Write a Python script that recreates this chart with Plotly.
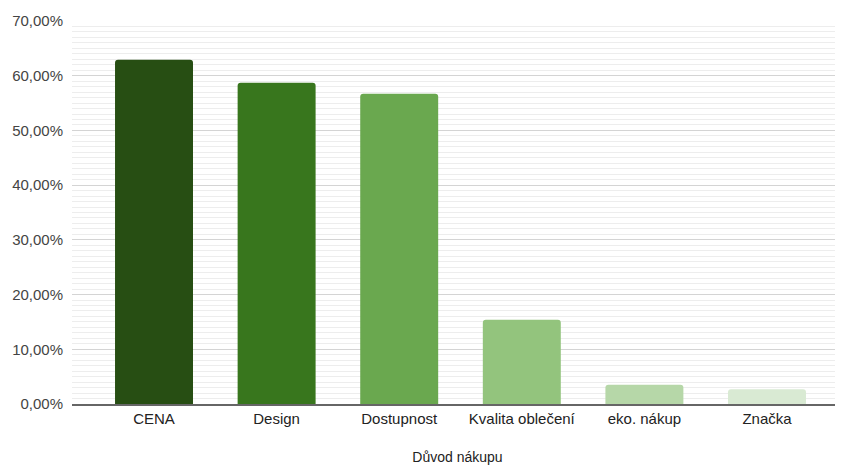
import plotly.graph_objects as go

categories = ["CENA", "Design", "Dostupnost", "Kvalita oblečení", "eko. nákup", "Značka"]
values = [0.629, 0.587, 0.567, 0.154, 0.035, 0.027]
colors = ["#274e13", "#38761d", "#6aa84f", "#93c47d", "#b6d7a8", "#d9ead3"]
y_ticks = [0, 0.1, 0.2, 0.3, 0.4, 0.5, 0.6, 0.7]

fig = go.Figure(go.Bar(
    x=list(range(len(categories))), y=values,
    marker=dict(color=colors, cornerradius=3, line=dict(width=0)),
    width=0.636,
))

font = "Liberation Sans, Arial, sans-serif"
fig.update_layout(
    width=835, height=457,
    margin=dict(l=64, r=0, t=13, b=61),
    paper_bgcolor="white", plot_bgcolor="white",
    separators=",.",
    showlegend=False,
    font=dict(family=font, size=15, color="#444444"),
)
fig.update_xaxes(
    tickmode="array", tickvals=list(range(len(categories))), ticktext=categories,
    range=[-0.669, 5.62],
    showgrid=False, showline=True, linecolor="#666666", linewidth=2,
    ticks="", tickfont=dict(size=15, color="#222222"),
    title=dict(text="Důvod nákupu", font=dict(size=14, color="#222222"), standoff=29),
    zeroline=False,
)
fig.update_yaxes(
    range=[0, 0.70], tickvals=y_ticks, tickformat=".2%",
    showgrid=True, gridcolor="#d4d4d4", gridwidth=1,
    minor=dict(dtick=0.01, showgrid=True, gridcolor="#ededed", gridwidth=1),
    zeroline=False, ticks="", ticklabelstandoff=8,
    tickfont=dict(size=15, color="#444444"),
)
fig.write_html("out.html")
